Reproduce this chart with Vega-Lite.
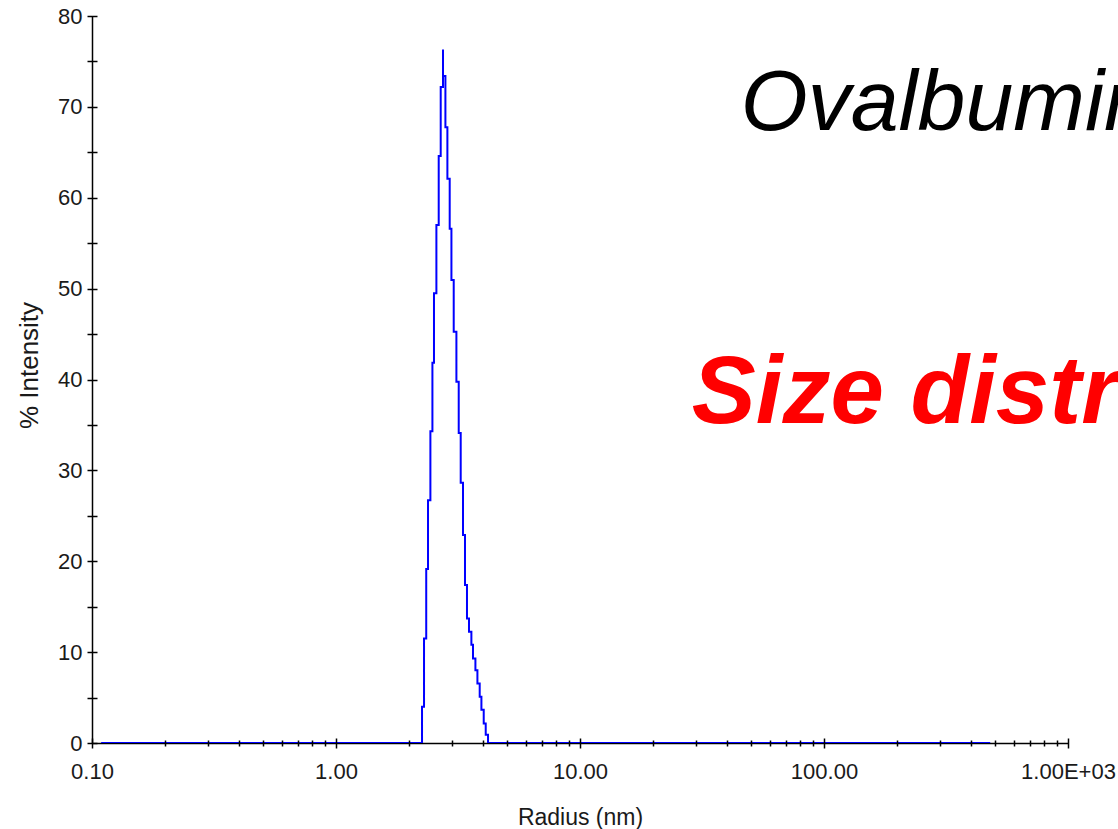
{
  "$schema": "https://vega.github.io/schema/vega-lite/v6.json",
  "width": 976,
  "height": 727,
  "autosize": {"type": "none"},
  "padding": {"left": 92, "top": 16, "right": 50, "bottom": 86},
  "background": "white",
  "config": {"view": {"stroke": null}},
  "datasets": {
    "dist": [
      {"r": 0.109, "i": 0},
      {"r": 2.252, "i": 4.0},
      {"r": 2.295, "i": 11.5},
      {"r": 2.343, "i": 19.15},
      {"r": 2.383, "i": 26.7},
      {"r": 2.437, "i": 34.3},
      {"r": 2.484, "i": 41.85},
      {"r": 2.521, "i": 49.5},
      {"r": 2.579, "i": 57.0},
      {"r": 2.636, "i": 64.6},
      {"r": 2.686, "i": 72.2},
      {"r": 2.745, "i": 76.3},
      {"r": 2.745, "i": 73.4},
      {"r": 2.808, "i": 67.75},
      {"r": 2.861, "i": 62.1},
      {"r": 2.924, "i": 56.6},
      {"r": 2.972, "i": 50.95},
      {"r": 3.037, "i": 45.25},
      {"r": 3.115, "i": 39.75},
      {"r": 3.184, "i": 34.1},
      {"r": 3.244, "i": 28.65},
      {"r": 3.315, "i": 22.9},
      {"r": 3.378, "i": 17.4},
      {"r": 3.442, "i": 13.7},
      {"r": 3.508, "i": 12.25},
      {"r": 3.588, "i": 10.8},
      {"r": 3.643, "i": 9.3},
      {"r": 3.727, "i": 8.0},
      {"r": 3.798, "i": 6.55},
      {"r": 3.881, "i": 5.1},
      {"r": 3.944, "i": 3.65},
      {"r": 4.031, "i": 2.15},
      {"r": 4.108, "i": 0.9},
      {"r": 4.198, "i": 0},
      {"r": 480, "i": 0}
    ],
    "notes": [
      {"r": 45.6, "i": 67.5, "t": "Ovalbumin", "kind": "name"},
      {"r": 28.7, "i": 35.2, "t": "Size distribution", "kind": "head"}
    ]
  },
  "resolve": {"axis": {"x": "independent", "y": "independent"}},
  "layer": [
    {
      "data": {"name": "dist"},
      "mark": {"type": "line", "color": "#0000ff", "strokeWidth": 2, "interpolate": "step-after", "clip": true},
      "encoding": {
        "x": {
          "field": "r", "type": "quantitative",
          "scale": {"type": "log", "domain": [0.1, 1000]},
          "axis": {
            "orient": "bottom", "values": [0.1, 1, 10, 100, 1000],
            "labelExpr": "datum.value >= 1000 ? '1.00E+03' : format(datum.value, '.2f')",
            "domain": true, "domainColor": "#000000", "domainWidth": 1.5,
            "ticks": false, "tickSize": 0, "grid": false,
            "labelPadding": 18, "labelFont": "Liberation Sans", "labelFontSize": 22, "labelColor": "#1a1a1a",
            "labelFlush": false, "labelOverlap": false,
            "title": "Radius (nm)", "titleFont": "Liberation Sans", "titleFontSize": 23, "titleFontWeight": "normal",
            "titleColor": "#1a1a1a", "titlePadding": 24, "zindex": 0
          }
        },
        "y": {
          "field": "i", "type": "quantitative",
          "scale": {"domain": [0, 80]},
          "axis": {
            "orient": "left", "values": [0, 10, 20, 30, 40, 50, 60, 70, 80],
            "domain": true, "domainColor": "#000000", "domainWidth": 1.5,
            "ticks": false, "tickSize": 0, "grid": false,
            "labelPadding": 10, "labelFont": "Liberation Sans", "labelFontSize": 22, "labelColor": "#1a1a1a",
            "labelFlush": false, "labelOverlap": false,
            "title": "% Intensity", "titleFont": "Liberation Sans", "titleFontSize": 26, "titleFontWeight": "normal",
            "titleColor": "#1a1a1a", "titlePadding": 15, "titleY": 349, "zindex": 0
          }
        },
        "order": {"value": null}
      }
    },
    {
      "data": {"name": "dist"},
      "mark": {"type": "line", "opacity": 0},
      "encoding": {
        "x": {
          "field": "r", "type": "quantitative",
          "scale": {"type": "log", "domain": [0.1, 1000]},
          "axis": {
            "orient": "bottom", "offset": -5, "values": [0.1, 1, 10, 100, 1000],
            "domain": false, "labels": false, "ticks": true, "tickSize": 10, "tickWidth": 1.5, "tickColor": "#000000",
            "grid": false, "title": null, "zindex": 1
          }
        },
        "y": {
          "field": "i", "type": "quantitative",
          "scale": {"domain": [0, 80]},
          "axis": {
            "orient": "left", "offset": -5, "values": [0, 5, 10, 15, 20, 25, 30, 35, 40, 45, 50, 55, 60, 65, 70, 75, 80],
            "domain": false, "labels": false, "ticks": true, "tickSize": 10, "tickWidth": 1.5, "tickColor": "#000000",
            "grid": false, "title": null, "zindex": 1
          }
        },
        "order": {"value": null}
      }
    },
    {
      "data": {"name": "dist"},
      "mark": {"type": "line", "opacity": 0},
      "encoding": {
        "x": {
          "field": "r", "type": "quantitative",
          "scale": {"type": "log", "domain": [0.1, 1000]},
          "axis": {
            "orient": "bottom", "offset": -3,
            "values": [0.2, 0.3, 0.4, 0.5, 0.6, 0.7, 0.8, 0.9, 2, 3, 4, 5, 6, 7, 8, 9, 20, 30, 40, 50, 60, 70, 80, 90, 200, 300, 400, 500, 600, 700, 800, 900],
            "domain": false, "labels": false, "ticks": true, "tickSize": 6, "tickWidth": 1.5, "tickColor": "#000000",
            "grid": false, "title": null, "zindex": 1
          }
        },
        "y": {"field": "i", "type": "quantitative", "scale": {"domain": [0, 80]}, "axis": null},
        "order": {"value": null}
      }
    },
    {
      "data": {"name": "notes"},
      "transform": [{"filter": "datum.kind == 'name'"}],
      "mark": {"type": "text", "align": "left", "baseline": "alphabetic", "font": "Liberation Sans", "fontStyle": "italic", "fontSize": 86, "color": "#000000"},
      "encoding": {
        "x": {"field": "r", "type": "quantitative", "scale": {"type": "log", "domain": [0.1, 1000]}, "axis": null},
        "y": {"field": "i", "type": "quantitative", "scale": {"domain": [0, 80]}, "axis": null},
        "text": {"field": "t"}
      }
    },
    {
      "data": {"name": "notes"},
      "transform": [{"filter": "datum.kind == 'head'"}],
      "mark": {"type": "text", "align": "left", "baseline": "alphabetic", "font": "Liberation Sans", "fontStyle": "italic", "fontWeight": "bold", "fontSize": 96, "color": "#ff0000"},
      "encoding": {
        "x": {"field": "r", "type": "quantitative", "scale": {"type": "log", "domain": [0.1, 1000]}, "axis": null},
        "y": {"field": "i", "type": "quantitative", "scale": {"domain": [0, 80]}, "axis": null},
        "text": {"field": "t"}
      }
    }
  ]
}
